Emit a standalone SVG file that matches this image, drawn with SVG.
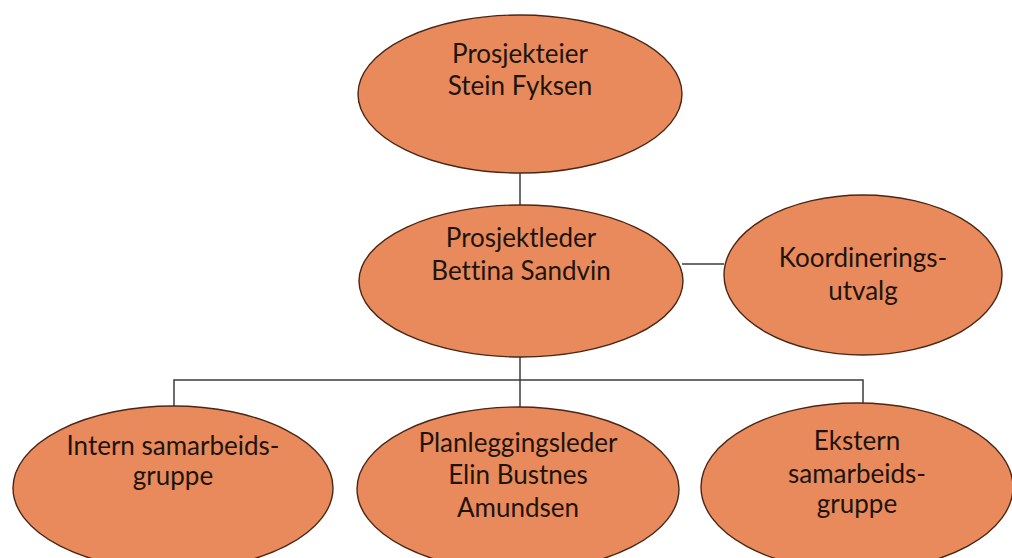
<svg xmlns="http://www.w3.org/2000/svg" width="1012" height="558" viewBox="0 0 1012 558">
<style>
.node ellipse{fill:#E98A5C;stroke:#4A2616;stroke-width:1.4}
.node text{font-family:Lato,"Open Sans",sans-serif;font-size:26px;fill:#1E140C;text-anchor:middle;font-variant-ligatures:none}
.conn{stroke:#3C3C3C;stroke-width:1.5;fill:none}
</style>
<rect width="1012" height="558" fill="#FFFFFF"/>
<g id="connectors">
<path class="conn" d="M520 173V206"/>
<path class="conn" d="M682 264H724"/>
<path class="conn" d="M520 357V380"/>
<path class="conn" d="M174 406V380H863V403"/>
<path class="conn" d="M520 380V407"/>
</g>
<g id="prosjekteier" class="node">
<ellipse cx="520" cy="94" rx="162" ry="79"/>
<text x="520" y="63">Prosjekteier</text>
<text x="520" y="95">Stein Fyksen</text>
</g>
<g id="prosjektleder" class="node">
<ellipse cx="521" cy="281" rx="162" ry="76"/>
<text x="521" y="247">Prosjektleder</text>
<text x="521" y="280">Bettina Sandvin</text>
</g>
<g id="koordineringsutvalg" class="node">
<ellipse cx="863" cy="275" rx="139" ry="80"/>
<text x="863" y="267">Koordinerings-</text>
<text x="863" y="300">utvalg</text>
</g>
<g id="intern" class="node">
<ellipse cx="173" cy="488" rx="160" ry="82"/>
<text x="173" y="455">Intern samarbeids-</text>
<text x="173" y="485">gruppe</text>
</g>
<g id="planleggingsleder" class="node">
<ellipse cx="518" cy="489" rx="161" ry="82"/>
<text x="518" y="452">Planleggingsleder</text>
<text x="518" y="484">Elin Bustnes</text>
<text x="518" y="517">Amundsen</text>
</g>
<g id="ekstern" class="node">
<ellipse cx="857" cy="487" rx="156" ry="84"/>
<text x="857" y="450">Ekstern</text>
<text x="857" y="483">samarbeids-</text>
<text x="857" y="513">gruppe</text>
</g>
</svg>
